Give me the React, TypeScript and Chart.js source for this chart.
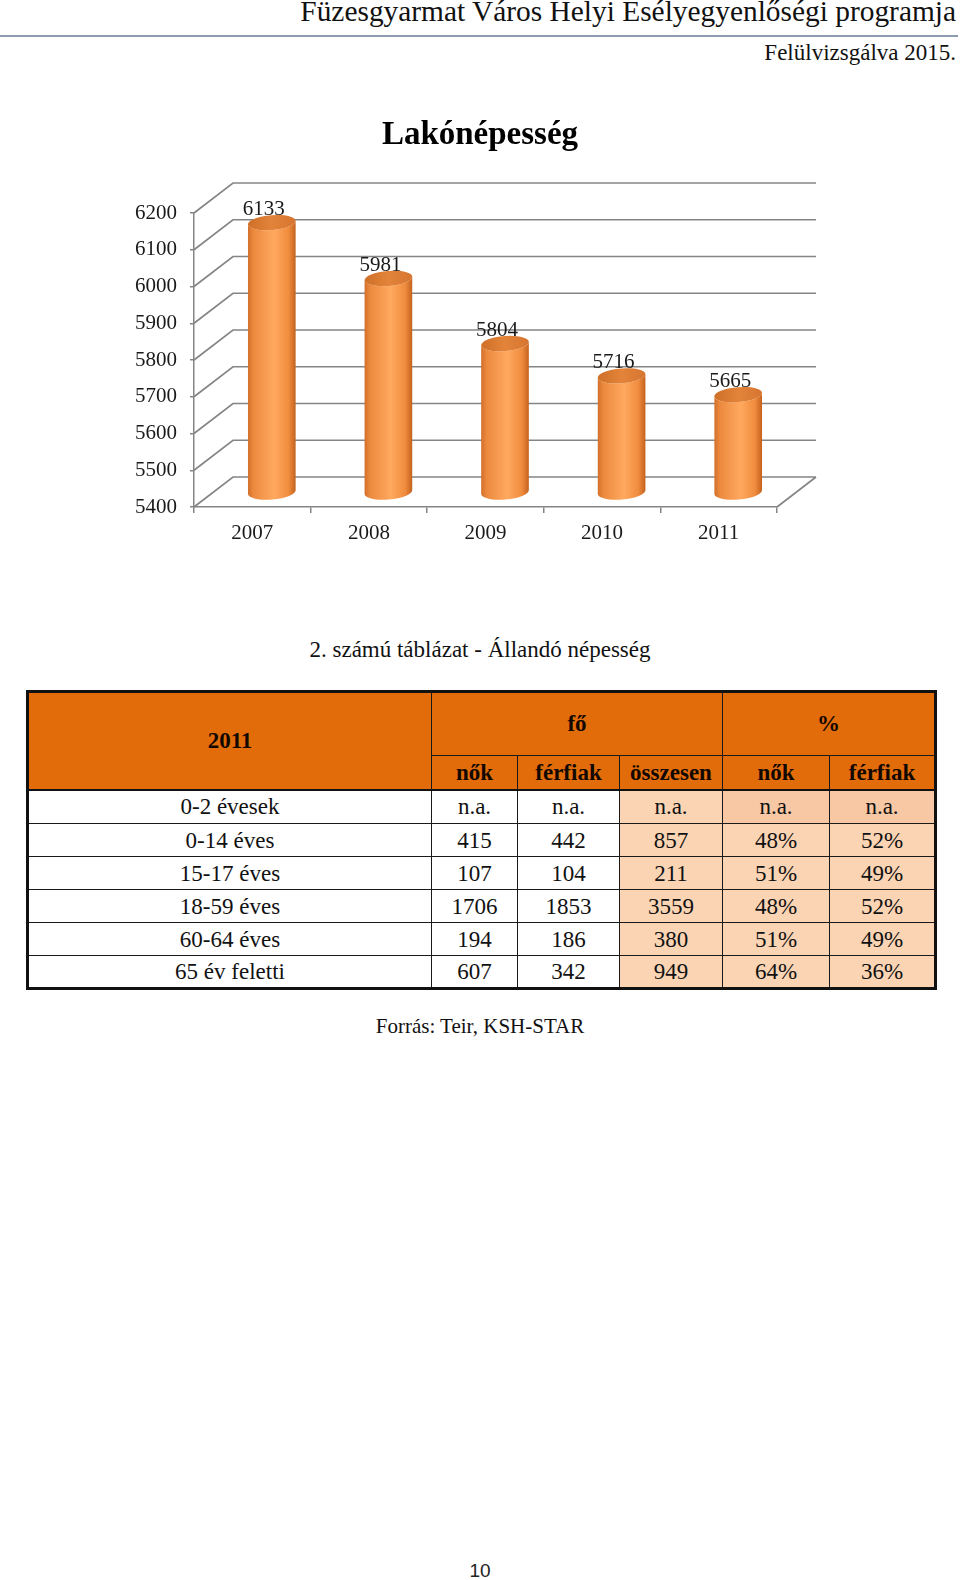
import React, { useEffect, useRef } from "react";
import { Chart, registerables } from "chart.js";

Chart.register(...registerables);

// ---------- data ----------
const headerTitle = "Füzesgyarmat Város Helyi Esélyegyenlőségi programja";
const headerSub = "Felülvizsgálva 2015.";
const chartTitle = "Lakónépesség";
const years = ["2007", "2008", "2009", "2010", "2011"];
const population = [6133, 5981, 5804, 5716, 5665];
const yMin = 5400;
const yMax = 6200;
const yStep = 100;

const tableCaption = "2. számú táblázat - Állandó népesség";
const tableYear = "2011";
const groupHeaders = ["fő", "%"];
const subHeaders = ["nők", "férfiak", "összesen", "nők", "férfiak"];
const ageGroups = ["0-2 évesek", "0-14 éves", "15-17 éves", "18-59 éves", "60-64 éves", "65 év feletti"];
const women = ["n.a.", "415", "107", "1706", "194", "607"];
const men = ["n.a.", "442", "104", "1853", "186", "342"];
const total = ["n.a.", "857", "211", "3559", "380", "949"];
const womenPct = ["n.a.", "48%", "51%", "48%", "51%", "64%"];
const menPct = ["n.a.", "52%", "49%", "52%", "49%", "36%"];
const source = "Forrás: Teir, KSH-STAR";
const pageNumber = "10";

// ---------- styles ----------
const SERIF = '"Liberation Serif", "Times New Roman", serif';
const GRID = "#858585";
const DX = 39;
const DY = -30;
const ORANGE = "#e36c0a";
const PEACH = "#fbd4b4";
const PEACH_DARK = "#f8c7a3";

const wallsPlugin = {
  id: "walls3d",
  beforeDatasetsDraw(chart: any) {
    const { ctx, chartArea, scales } = chart;
    const y = scales.y;
    ctx.save();
    ctx.strokeStyle = GRID;
    ctx.lineWidth = 1.7;
    ctx.beginPath();
    for (let v = yMin; v <= yMax; v += yStep) {
      const yf = y.getPixelForValue(v);
      ctx.moveTo(chartArea.left, yf);
      ctx.lineTo(chartArea.left + DX, yf + DY);
      ctx.lineTo(chartArea.right + DX, yf + DY);
    }
    ctx.moveTo(chartArea.right, chartArea.bottom);
    ctx.lineTo(chartArea.right + DX, chartArea.bottom + DY);
    ctx.stroke();
    ctx.restore();
  },
};

const cylinderPlugin = {
  id: "cylinders",
  afterDatasetsDraw(chart: any) {
    const { ctx } = chart;
    const yScale = chart.scales.y;
    const meta = chart.getDatasetMeta(0);
    const values = chart.data.datasets[0].data as number[];
    const basePx = yScale.getPixelForValue(yMin);
    ctx.save();
    meta.data.forEach((bar: any, i: number) => {
      const rx = bar.width / 2;
      const ry = 7.5;
      const rot = -0.08;
      const cx = bar.x + DX / 2;
      const topY = yScale.getPixelForValue(values[i]) + DY / 2;
      const baseY = basePx + DY / 2;
      const g = ctx.createLinearGradient(cx - rx, 0, cx + rx, 0);
      g.addColorStop(0, "#d2702c");
      g.addColorStop(0.12, "#ec8a3e");
      g.addColorStop(0.55, "#ffa95f");
      g.addColorStop(0.85, "#f08c3e");
      g.addColorStop(1, "#c4621e");
      ctx.beginPath();
      ctx.ellipse(cx, baseY, rx, ry, rot, Math.PI, 0, true);
      ctx.ellipse(cx, topY, rx, ry, rot, 0, Math.PI, false);
      ctx.closePath();
      ctx.fillStyle = g;
      ctx.fill();
      ctx.beginPath();
      ctx.ellipse(cx, topY, rx, ry, rot, 0, Math.PI * 2);
      const tg = ctx.createLinearGradient(cx - rx, 0, cx + rx, 0);
      tg.addColorStop(0, "#cf6f28");
      tg.addColorStop(0.5, "#e3843a");
      tg.addColorStop(1, "#d67530");
      ctx.fillStyle = tg;
      ctx.fill();
      ctx.fillStyle = "#1a1a1a";
      ctx.font = `21px ${SERIF}`;
      ctx.textAlign = "center";
      ctx.textBaseline = "middle";
      ctx.fillText(String(values[i]), cx - 8, topY - 13);
    });
    ctx.restore();
  },
};

const titlePlugin = {
  id: "centeredTitle",
  afterDraw(chart: any) {
    const { ctx } = chart;
    ctx.save();
    ctx.fillStyle = "#000";
    ctx.font = `bold 33px ${SERIF}`;
    ctx.textAlign = "center";
    ctx.textBaseline = "alphabetic";
    ctx.fillText(chartTitle, 380, 44);
    ctx.restore();
  },
};

function PopulationChart() {
  const ref = useRef<HTMLCanvasElement | null>(null);
  useEffect(() => {
    if (!ref.current) return;
    const tickFont = { family: SERIF, size: 21 };
    const chart = new Chart(ref.current, {
      type: "bar",
      data: {
        labels: years,
        datasets: [
          {
            data: population,
            backgroundColor: "rgba(0,0,0,0)",
            borderWidth: 0,
            barPercentage: 0.41,
            categoryPercentage: 1,
          },
        ],
      },
      options: {
        animation: false,
        responsive: false,
        maintainAspectRatio: false,
        devicePixelRatio: 1,
        layout: { padding: { left: 0, right: 83, top: 113, bottom: 0 } },
        plugins: {
          legend: { display: false },
          tooltip: { enabled: false },
          title: { display: false },
        },
        scales: {
          x: {
            grid: { display: true, drawOnChartArea: false, offset: true, tickLength: 6, color: GRID, lineWidth: 1.5 },
            border: { display: true, color: GRID, width: 1.5 },
            ticks: { font: tickFont, color: "#1a1a1a", padding: 8 },
            afterFit: (s: any) => {
              s.height = 53;
            },
          },
          y: {
            min: yMin,
            max: yMax,
            ticks: {
              stepSize: yStep,
              font: tickFont,
              color: "#1a1a1a",
              padding: 13,
              callback: (v: any) => String(v),
            },
            grid: { display: true, drawOnChartArea: false, tickLength: 4, color: GRID, lineWidth: 1.5 },
            border: { display: true, color: GRID, width: 1.5 },
            afterFit: (s: any) => {
              s.width = 94;
            },
          },
        },
      } as any,
      plugins: [wallsPlugin, cylinderPlugin, titlePlugin],
    });
    return () => chart.destroy();
  }, []);
  return (
    <canvas
      ref={ref}
      width={760}
      height={460}
      style={{ position: "absolute", left: 100, top: 100, width: 760, height: 460 }}
    />
  );
}

function textAt(fs: number, baseline: number) {
  return { fontSize: fs, lineHeight: `${fs}px`, top: baseline - 0.8375 * fs };
}

const cellBase: React.CSSProperties = {
  padding: 0,
  textAlign: "center",
  verticalAlign: "middle",
  border: "1.5px solid #1a1a1a",
  lineHeight: 1,
};

function PopulationTable() {
  const colWidths = [404, 86, 102, 103, 107, 106];
  const rowHeights = [64, 34, 34, 33, 33, 33, 33, 33];
  const hdr: React.CSSProperties = { ...cellBase, background: ORANGE, fontWeight: "bold", color: "#120800" };
  return (
    <table
      style={{
        position: "absolute",
        left: 26,
        top: 690,
        width: 908,
        borderCollapse: "collapse",
        tableLayout: "fixed",
        border: "3px solid #111",
        fontFamily: SERIF,
        fontSize: 23,
        color: "#111",
      }}
    >
      <colgroup>
        {colWidths.map((w, i) => (
          <col key={i} style={{ width: w }} />
        ))}
      </colgroup>
      <tbody>
        <tr style={{ height: rowHeights[0] }}>
          <td rowSpan={2} style={{ ...hdr, borderBottom: "2.5px solid #111", paddingTop: 0 }}>
            {tableYear}
          </td>
          <td colSpan={3} style={{ ...hdr, paddingBottom: 2 }}>
            {groupHeaders[0]}
          </td>
          <td colSpan={2} style={{ ...hdr, paddingBottom: 2 }}>
            {groupHeaders[1]}
          </td>
        </tr>
        <tr style={{ height: rowHeights[1] }}>
          {subHeaders.map((h, i) => (
            <td key={i} style={{ ...hdr, borderBottom: "2.5px solid #111" }}>
              {h}
            </td>
          ))}
        </tr>
        {ageGroups.map((g, r) => {
          const peach = r === 0 ? PEACH_DARK : PEACH;
          return (
            <tr key={r} style={{ height: rowHeights[r + 2] }}>
              <td style={{ ...cellBase, background: "#fff" }}>{g}</td>
              <td style={{ ...cellBase, background: "#fff" }}>{women[r]}</td>
              <td style={{ ...cellBase, background: "#fff" }}>{men[r]}</td>
              <td style={{ ...cellBase, background: PEACH }}>{total[r]}</td>
              <td style={{ ...cellBase, background: peach }}>{womenPct[r]}</td>
              <td style={{ ...cellBase, background: peach }}>{menPct[r]}</td>
            </tr>
          );
        })}
      </tbody>
    </table>
  );
}

export default function App() {
  return (
    <div
      style={{
        position: "absolute",
        left: 0,
        top: 0,
        width: 960,
        height: 1580,
        background: "#fff",
        overflow: "hidden",
        fontFamily: SERIF,
        color: "#111",
      }}
    >
      <div style={{ position: "absolute", right: 4, whiteSpace: "nowrap", ...textAt(29.4, 22) }}>{headerTitle}</div>
      <div style={{ position: "absolute", left: 0, top: 35, width: 958, height: 1.5, background: "#8d9cae" }} />
      <div style={{ position: "absolute", right: 4, whiteSpace: "nowrap", ...textAt(23, 60) }}>{headerSub}</div>
      <PopulationChart />
      <div style={{ position: "absolute", left: 0, width: 960, textAlign: "center", ...textAt(23, 657) }}>
        {tableCaption}
      </div>
      <PopulationTable />
      <div style={{ position: "absolute", left: 0, width: 960, textAlign: "center", ...textAt(21, 1034) }}>
        {source}
      </div>
      <div
        style={{
          position: "absolute",
          left: 0,
          width: 960,
          textAlign: "center",
          fontFamily: '"Liberation Sans", Arial, sans-serif',
          fontSize: 19,
          lineHeight: "19px",
          top: 1561,
          color: "#222",
        }}
      >
        {pageNumber}
      </div>
    </div>
  );
}
